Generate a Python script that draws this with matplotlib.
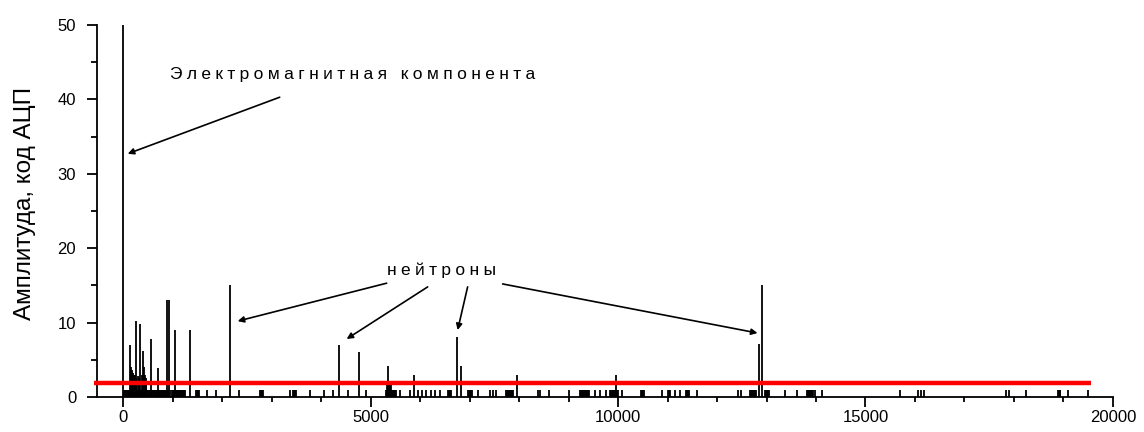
import matplotlib
matplotlib.use('Agg')
import matplotlib.pyplot as plt
from matplotlib.ticker import MultipleLocator

plt.rcParams['font.family'] = ['Liberation Sans', 'DejaVu Sans']

# tall pulses: position (channel) and amplitude
peak_x = [0, 131, 267, 347, 390, 570, 703, 880, 920, 1045, 1343, 2165,
          4360, 4764, 5355, 5875, 6750, 6836, 7966, 9950, 12845, 12913]
peak_y = [50, 7, 10.2, 9.8, 6.2, 7.8, 3.9, 13, 13, 9, 9, 15.1,
          7, 6, 4.2, 3, 8, 4.2, 3, 3, 7.1, 15.1]

# medium pulses near the start
mid_x = [150, 170, 190, 210, 230, 250, 290, 310, 370, 410, 430, 450, 470]
mid_y = [4, 3.6, 3.2, 3, 3, 2.6, 2.8, 2.5, 3, 4, 3, 2.5, 2]

# small pulses (amplitude 1 or 2)
small_x = [20, 40, 60, 80, 100, 120, 140, 160, 180, 200, 220, 240, 260, 280,
           300, 320, 340, 360, 380, 400, 420, 440, 460, 480, 500, 520, 540,
           560, 580, 600, 620, 640, 660, 680, 700, 720, 740, 760, 780, 800,
           820, 840, 860, 900, 940,
           980, 1000, 1020, 1040, 1060, 1080, 1100, 1120, 1140, 1160, 1180,
           1200, 1220, 1240,
           1470, 1490, 1510, 1530, 1690, 1865, 2340, 2760, 2780, 2800, 2820,
           3380, 3430, 3450, 3470, 3490, 3770, 4050, 4240, 4540, 4910,
           5310, 5330, 5350, 5370, 5390, 5410, 5430, 5450, 5470, 5490, 5510,
           5590, 5790, 5960, 6044, 6125, 6212, 6305, 6400,
           6570, 6590, 6610, 6630, 6960, 6980, 7000, 7020, 7040, 7170, 7410,
           7470, 7540, 7740, 7760, 7780, 7800, 7820, 7840, 7860, 7880,
           8380, 8430, 8600, 9010, 9240, 9260, 9280, 9300, 9320, 9340, 9360,
           9380, 9400, 9420, 9525, 9625, 9760, 9830, 9850, 9870, 9890, 9910,
           9930, 9970, 9990, 10085, 10470, 10490, 10510, 10530,
           10893, 11010, 11030, 11050, 11160, 11257, 11365, 11385, 11405,
           11430, 11590, 12420, 12490, 12660, 12680, 12700, 12720, 12740,
           12760, 12780, 12960, 12980, 13000, 13020, 13040, 13060, 13365,
           13620, 13820, 13840, 13860, 13880, 13900, 13920, 13940, 13970,
           14125, 15690, 16060, 16125, 16180, 17845, 17910, 18245,
           18885, 18905, 18925, 18940, 19100, 19490]
small_y = [1] * len(small_x)
for i, x in enumerate(small_x):
    if 5320 <= x <= 5420:
        small_y[i] = 2

threshold = 1.9
threshold_x = [-600, 19550]

fig = plt.figure(figsize=(11.44, 4.32), dpi=100)
ax = fig.add_axes([0.0848, 0.081, 0.888, 0.861])

ax.vlines(small_x, 0, small_y, color='black', lw=1.3)
ax.vlines(mid_x, 0, mid_y, color='black', lw=1.3)
ax.vlines(peak_x, 0, peak_y, color='black', lw=1.3)
ax.plot(threshold_x, [threshold, threshold], color='red', lw=3.2,
        solid_capstyle='butt', clip_on=False, zorder=5)

ax.set_xlim(-530, 20000)
ax.set_ylim(0, 50)
ax.spines['top'].set_visible(False)
ax.spines['right'].set_visible(False)
for s in ['left', 'bottom']:
    ax.spines[s].set_linewidth(1.3)

ax.xaxis.set_major_locator(MultipleLocator(5000))
ax.xaxis.set_minor_locator(MultipleLocator(1000))
ax.yaxis.set_major_locator(MultipleLocator(10))
ax.yaxis.set_minor_locator(MultipleLocator(5))
ax.tick_params(axis='x', which='major', length=7, width=1.3, pad=2, labelsize=12)
ax.tick_params(axis='x', which='minor', length=3.5, width=1.3)
ax.tick_params(axis='y', which='major', length=7, width=1.3, pad=8, labelsize=12)
ax.tick_params(axis='y', which='minor', length=4.5, width=1.3)

ax.set_ylabel('Амплитуда, код АЦП', fontsize=17.5)
ax.yaxis.set_label_coords(-0.060, 0.52)

sp = '\u2005'
em_text = sp.join('Электромагнитная компонента')
n_text = sp.join('нейтроны')
ax.text(939, 43.3, em_text, fontsize=12.5, ha='left', va='center')
ax.text(5323, 17.1, n_text, fontsize=12.5, ha='left', va='center')

arrow = dict(arrowstyle='-|>', color='black', lw=1.2, mutation_scale=9,
             shrinkA=0, shrinkB=0)
ax.annotate('', xy=(91, 32.7), xytext=(3162, 40.3), arrowprops=arrow)
ax.annotate('', xy=(2313, 10.2), xytext=(5323, 15.3), arrowprops=arrow)
ax.annotate('', xy=(4515, 7.8), xytext=(6152, 14.8), arrowprops=arrow)
ax.annotate('', xy=(6758, 9.0), xytext=(6960, 14.8), arrowprops=arrow)
ax.annotate('', xy=(12818, 8.6), xytext=(7667, 15.2), arrowprops=arrow)

fig.savefig('out.png', dpi=100)
